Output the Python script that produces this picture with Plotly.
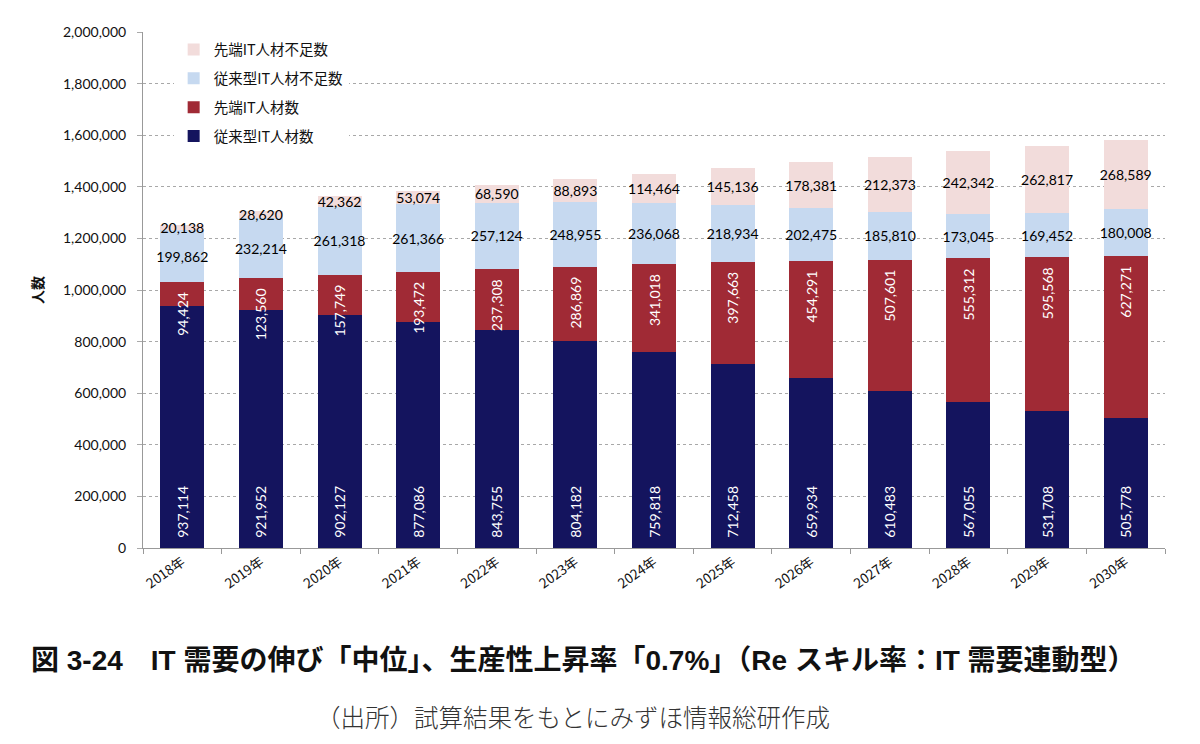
import plotly.graph_objects as go

years = ["2018年", "2019年", "2020年", "2021年", "2022年", "2023年", "2024年",
         "2025年", "2026年", "2027年", "2028年", "2029年", "2030年"]
conventional = [937114, 921952, 902127, 877086, 843755, 804182, 759818,
                712458, 659934, 610483, 567055, 531708, 505778]
advanced = [94424, 123560, 157749, 193472, 237308, 286869, 341018,
            397663, 454291, 507601, 555312, 595568, 627271]
conventional_short = [199862, 232214, 261318, 261366, 257124, 248955, 236068,
                      218934, 202475, 185810, 173045, 169452, 180008]
advanced_short = [20138, 28620, 42362, 53074, 68590, 88893, 114464,
                  145136, 178381, 212373, 242342, 262817, 268589]

NB = "\u00a0"
# name, values, color, text color, angle, anchor, text formatter, legend rank
series = [
    ("従来型IT人材数", conventional, "#14145E", "white", -90, "start",
     lambda v: NB * 2 + f"{v:,}", 4),
    ("先端IT人材数", advanced, "#A02A35", "white", -90, "end",
     lambda v: f"{v:,}" + NB * 2, 3),
    ("従来型IT人材不足数", conventional_short, "#C6D9F0", "black", 0, "middle",
     lambda v: f"{v:,}", 2),
    ("先端IT人材不足数", advanced_short, "#F2DCDB", "black", 0, "middle",
     lambda v: f"{v:,}", 1),
]

LABEL_FONT = "Lato, Open Sans, sans-serif"
CJK = "Noto Sans CJK JP"

fig = go.Figure()
for name, vals, color, tcolor, ang, anchor, fmt, rank in series:
    fig.add_trace(go.Bar(
        x=years, y=vals, name=name, legendgroup=name, legendrank=rank,
        marker=dict(color=color, line=dict(width=0)),
        text=[fmt(v) for v in vals],
        textposition="inside",
        insidetextanchor=anchor,
        textangle=ang,
        constraintext="none",
        textfont=dict(color=tcolor, size=14, family=LABEL_FONT),
        hoverinfo="skip",
    ))

fig.update_layout(
    barmode="stack",
    bargap=0.44,
    width=1200, height=744,
    paper_bgcolor="white", plot_bgcolor="white",
    margin=dict(l=143, r=35, t=32, b=196),
    font=dict(family=CJK, color="#222222"),
    showlegend=True,
    legend=dict(
        x=0.03, y=0.997, xanchor="left", yanchor="top",
        traceorder="grouped",
        tracegroupgap=7,
        bgcolor="white",
        font=dict(size=14.5, family=CJK, color="#111111"),
        itemwidth=30,
    ),
    uniformtext=dict(minsize=14, mode="show"),
)

fig.update_yaxes(
    range=[0, 2000000],
    tickvals=list(range(0, 2000001, 200000)),
    tickformat=",d",
    tickfont=dict(size=14, family=LABEL_FONT, color="#111111"),
    showgrid=True, gridcolor="#A8A8A8", griddash="dot", gridwidth=1,
    showline=True, linecolor="#999999", linewidth=1,
    ticks="outside", ticklen=5, tickcolor="#AAAAAA",
    ticklabelstandoff=8,
    zeroline=False,
    title=dict(text="<b>人数</b>", font=dict(size=14, family=CJK, color="#111111"), standoff=16),
)

fig.update_xaxes(
    tickangle=-35,
    tickfont=dict(size=13.5, family=CJK, color="#111111"),
    showline=True, linecolor="#999999", linewidth=1,
    ticks="outside", ticklen=5, tickcolor="#999999",
    tickson="boundaries",
    showgrid=False,
)

fig.add_annotation(
    text="<b>図 3-24　IT 需要の伸び「中位」、生産性上昇率「0.7%」（Re スキル率：IT 需要連動型）</b>",
    xref="paper", yref="paper", x=(583 - 143) / 1022, y=-(660 - 548) / 516,
    xanchor="center", yanchor="middle", showarrow=False,
    font=dict(size=28, family="Liberation Sans, " + CJK, color="#111111"),
)
fig.add_annotation(
    text="（出所）試算結果をもとにみずほ情報総研作成",
    xref="paper", yref="paper", x=(573 - 143) / 1022, y=-(716 - 548) / 516,
    xanchor="center", yanchor="middle", showarrow=False,
    font=dict(size=24.5, family=CJK, color="#333333", weight=300),
)

fig.write_html("out.html", config={"displayModeBar": False},
               post_script="document.body.style.margin='0';")
